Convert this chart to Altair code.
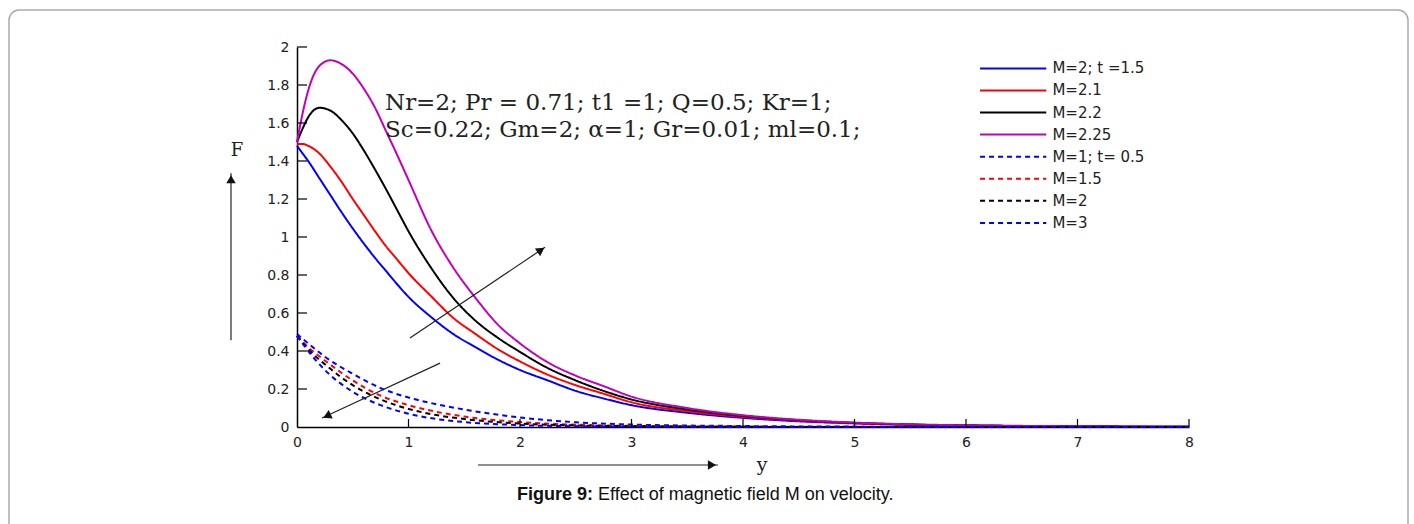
import altair as alt
import pandas as pd

# ---------------- data ----------------
solid_names = ["M=2; t =1.5", "M=2.1", "M=2.2", "M=2.25"]
dashed_names = ["M=1; t= 0.5", "M=1.5", "M=2", "M=3"]
series_names = solid_names + dashed_names
series_colors = ["#0000ff", "#ff0000", "#000000", "#c000c0",
                 "#0000ff", "#ff0000", "#000000", "#0000ff"]

solid_x = [0, 0.05, 0.1, 0.2, 0.3, 0.4, 0.5, 0.6, 0.7, 0.8, 0.9, 1.0, 1.2, 1.4, 1.6,
           1.8, 2.0, 2.25, 2.5, 2.75, 3.0, 3.5, 4.0, 4.5, 5.0, 5.5, 6.0, 7.0, 8.0]
f_m2_t15 = [1.48, 1.44, 1.40, 1.31, 1.22, 1.13, 1.045, 0.965, 0.89, 0.82, 0.75, 0.685, 0.58, 0.49, 0.42,
            0.355, 0.30, 0.245, 0.19, 0.15, 0.115, 0.075, 0.048, 0.03, 0.019, 0.012, 0.008, 0.003, 0.001]
f_m21 = [1.49, 1.49, 1.48, 1.44, 1.37, 1.29, 1.20, 1.115, 1.03, 0.95, 0.88, 0.81, 0.69, 0.575, 0.49,
         0.41, 0.345, 0.275, 0.22, 0.175, 0.13, 0.083, 0.053, 0.033, 0.02, 0.012, 0.008, 0.003, 0.001]
f_m22 = [1.50, 1.57, 1.63, 1.68, 1.665, 1.615, 1.545, 1.455, 1.355, 1.25, 1.14, 1.03, 0.84, 0.68, 0.56,
         0.47, 0.395, 0.31, 0.245, 0.19, 0.145, 0.092, 0.058, 0.036, 0.022, 0.013, 0.008, 0.003, 0.001]
f_m225 = [1.50, 1.65, 1.77, 1.90, 1.93, 1.91, 1.86, 1.78, 1.68, 1.555, 1.43, 1.30, 1.04, 0.84, 0.68,
          0.54, 0.44, 0.34, 0.27, 0.215, 0.16, 0.10, 0.062, 0.038, 0.023, 0.014, 0.009, 0.004, 0.001]

dashed_x = [0, 0.1, 0.25, 0.5, 0.75, 1.0, 1.25, 1.5, 2.0, 2.5, 3.0, 4.0, 5.0, 6.0, 8.0]
f_m1_t05 = [0.49, 0.44, 0.37, 0.28, 0.205, 0.155, 0.12, 0.092, 0.05, 0.025, 0.013, 0.005, 0.002, 0.001, 0.0]
f_m15 = [0.48, 0.42, 0.35, 0.245, 0.165, 0.115, 0.08, 0.055, 0.026, 0.012, 0.006, 0.002, 0.001, 0.0, 0.0]
f_m2 = [0.48, 0.41, 0.33, 0.22, 0.145, 0.095, 0.063, 0.042, 0.018, 0.008, 0.004, 0.001, 0.0, 0.0, 0.0]
f_m3 = [0.48, 0.40, 0.30, 0.185, 0.115, 0.07, 0.042, 0.026, 0.01, 0.004, 0.002, 0.0, 0.0, 0.0, 0.0]

x_ticks = [0, 1, 2, 3, 4, 5, 6, 7, 8]
y_ticks = [0, 0.2, 0.4, 0.6, 0.8, 1, 1.2, 1.4, 1.6, 1.8, 2]

param_line1 = "Nr=2; Pr = 0.71; t1 =1; Q=0.5; Kr=1;"
param_line2 = "Sc=0.22;  Gm=2; α=1; Gr=0.01; ml=0.1;"
caption_bold = "Figure 9:"
caption_rest = "Effect of magnetic field M on velocity."

# ---------------- tables ----------------
rows = []
for name, vals in zip(solid_names, [f_m2_t15, f_m21, f_m22, f_m225]):
    for xv, fv in zip(solid_x, vals):
        rows.append({"s": name, "yv": xv, "F": fv})
for name, vals in zip(dashed_names, [f_m1_t05, f_m15, f_m2, f_m3]):
    for xv, fv in zip(dashed_x, vals):
        rows.append({"s": name, "yv": xv, "F": fv})
df = pd.DataFrame(rows)

dash_range = [[1, 0]] * 4 + [[5, 4]] * 4
color = alt.Color("s:N", scale=alt.Scale(domain=series_names, range=series_colors), legend=None)
dash = alt.StrokeDash("s:N", scale=alt.Scale(domain=series_names, range=dash_range), legend=None)

W, H = 892, 380
xs = alt.Scale(domain=[0, 8], nice=False, zero=False)
ys = alt.Scale(domain=[0, 2], nice=False, zero=False)

axis_common = dict(grid=False, ticks=False, domainColor="#000000", domainWidth=1.5,
                   labelFont="DejaVu Sans", labelFontSize=14, labelColor="#222222",
                   format="~g", title="", labelOverlap=False, labelFlush=False, labelPadding=8)
x_axis = alt.Axis(values=x_ticks, **axis_common)
y_axis = alt.Axis(values=y_ticks, **axis_common)


def X(field):
    return alt.X(field, scale=xs, axis=x_axis)


def Y(field):
    return alt.Y(field, scale=ys, axis=y_axis)


lines = alt.Chart(df).mark_line(strokeWidth=2, interpolate="monotone").encode(
    x=X("yv:Q"), y=Y("F:Q"),
    color=color, strokeDash=dash, detail="s:N",
    order=alt.Order("yv:Q"),
)

# inward tick marks
ytick_df = pd.DataFrame({"F": y_ticks[1:]})
ytick = alt.Chart(ytick_df).mark_rule(color="#000000", strokeWidth=1.2).encode(
    y=Y("F:Q"), x=alt.value(0), x2=alt.value(10))
xtick_df = pd.DataFrame({"yv": x_ticks[1:]})
xtick = alt.Chart(xtick_df).mark_rule(color="#000000", strokeWidth=1.2).encode(
    x=X("yv:Q"), y=alt.value(H), y2=alt.value(H - 8))

# legend (manual, inside the plot)
leg_df = pd.DataFrame({"s": series_names, "i": list(range(len(series_names)))})
leg_base = alt.Chart(leg_df).transform_calculate(
    ly="1.8875 - 0.1162 * datum.i", lx1="6.126", lx2="6.72", tx="6.775")
leg_lines = leg_base.mark_rule(strokeWidth=2).encode(
    x=X("lx1:Q"), x2="lx2:Q", y=Y("ly:Q"),
    color=color, strokeDash=dash)
leg_text = leg_base.mark_text(align="left", baseline="middle", font="DejaVu Sans",
                              fontSize=15, color="#222222").encode(
    x=X("tx:Q"), y=Y("ly:Q"), text="s:N")

# arrows (annotations)
arrow_df = pd.DataFrame({
    "x1": [1.013, 1.283, -0.592, 1.623],
    "y1": [0.468, 0.336, 0.457, -0.2],
    "x2": [2.224, 0.224, -0.592, 3.776],
    "y2": [0.946, 0.047, 1.335, -0.2],
    "hx": [2.188, 0.269, -0.592, 3.722],
    "hy": [0.931, 0.058, 1.304, -0.2],
    "ang": [56, 245, 0, 90],
})
arrow_lines = alt.Chart(arrow_df).mark_rule(color="#222222", strokeWidth=1.2).encode(
    x=X("x1:Q"), y=Y("y1:Q"), x2="x2:Q", y2="y2:Q")
arrow_heads = alt.Chart(arrow_df).mark_point(shape="triangle-up", filled=True, size=90,
                                             color="#111111", opacity=1).encode(
    x=X("hx:Q"), y=Y("hy:Q"), angle=alt.Angle("ang:Q", scale=None))

one = pd.DataFrame({"k": [0]})
frame = alt.Chart(one).mark_rect(fill="transparent", stroke="#aaaaaa", strokeWidth=1.5,
                                 cornerRadius=10).encode(
    x=alt.value(-288), x2=alt.value(1111), y=alt.value(-37), y2=alt.value(500))


def label(text, x, y, **kw):
    return alt.Chart(one).mark_text(text=text, **kw).encode(x=alt.value(x), y=alt.value(y))


t1 = label(param_line1, 88, 63, align="left", baseline="alphabetic",
           font="DejaVu Serif", fontSize=23, color="#222222")
t2 = label(param_line2, 88, 90, align="left", baseline="alphabetic",
           font="DejaVu Serif", fontSize=23, color="#222222")
tF = label("F", -60, 104, align="center", baseline="middle",
           font="DejaVu Serif", fontSize=18, color="#222222")
tY = label("y", 465, 418, align="center", baseline="middle",
           font="DejaVu Serif", fontSize=19, color="#222222")
cap1 = label(caption_bold, 296, 453, align="right", baseline="alphabetic",
             font="Liberation Sans", fontSize=18, fontWeight="bold", color="#111111")
cap2 = label(caption_rest, 301, 453, align="left", baseline="alphabetic",
             font="Liberation Sans", fontSize=18, color="#111111")

chart = alt.layer(
    lines, frame, ytick, xtick, leg_lines, leg_text, arrow_lines, arrow_heads,
    t1, t2, tF, tY, cap1, cap2
).properties(
    width=W, height=H,
    autosize=alt.AutoSizeParams(type="none"),
    padding={"left": 297, "top": 47, "right": 1414 - 297 - W, "bottom": 524 - 47 - H},
    background="white",
).configure_view(stroke=None).configure_axis(labelOverlap=False)

chart.save("out.html", embed_options={"renderer": "svg", "actions": False})
